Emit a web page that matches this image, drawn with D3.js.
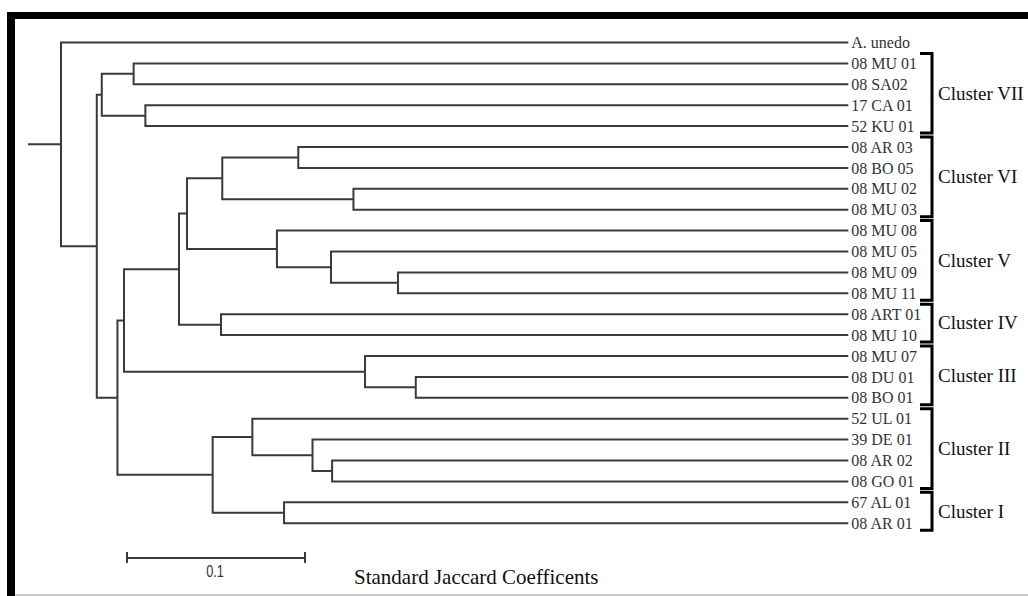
<!doctype html>
<html lang='en'>

<head>
    <title>Dendrogram - Standard Jaccard Coefficents</title>
    <meta charset='utf-8'>
    <style>
        body {
            margin: 0;
            background-color: white;
        }

        .branch {
            fill: none;
            stroke: #3a3a3a;
            stroke-width: 2px;
        }

        .leaf-label {
            font-family: 'Liberation Serif', 'Times New Roman', serif;
            font-size: 16px;
            fill: #333;
        }

        .cluster-label {
            font-family: 'Liberation Serif', 'Times New Roman', serif;
            font-size: 19px;
            fill: #111;
        }

        .bracket {
            fill: none;
            stroke: black;
            stroke-width: 3px;
        }
    </style>
    <script src='https://cdn.jsdelivr.net/npm/d3@7'></script>
</head>

<body>
    <div id='chart'></div>

    <script>
        // leaf order, top to bottom
        const leaves = [
            'A. unedo', '08 MU 01', '08 SA02', '17 CA 01', '52 KU 01',
            '08 AR 03', '08 BO 05', '08 MU 02', '08 MU 03',
            '08 MU 08', '08 MU 05', '08 MU 09', '08 MU 11',
            '08 ART 01', '08 MU 10',
            '08 MU 07', '08 DU 01', '08 BO 01',
            '52 UL 01', '39 DE 01', '08 AR 02', '08 GO 01',
            '67 AL 01', '08 AR 01'
        ];

        // merge steps: [child, child, height]; a number means an earlier merge row
        const merges = [
            ['08 DU 01', '08 BO 01', 0.243],   // 0
            ['08 MU 09', '08 MU 11', 0.253],   // 1
            ['08 MU 07', 0, 0.2715],           // 2
            ['08 MU 02', '08 MU 03', 0.278],   // 3
            ['08 AR 02', '08 GO 01', 0.290],   // 4
            ['08 MU 05', 1, 0.2906],           // 5
            ['39 DE 01', 4, 0.301],            // 6
            ['08 AR 03', '08 BO 05', 0.309],   // 7
            ['67 AL 01', '08 AR 01', 0.317],   // 8
            ['08 MU 08', 5, 0.321],            // 9
            ['52 UL 01', 6, 0.3348],           // 10
            [7, 3, 0.3517],                    // 11
            ['08 ART 01', '08 MU 10', 0.3524], // 12
            [10, 8, 0.3571],                   // 13
            [11, 9, 0.3715],                   // 14
            [14, 12, 0.376],                   // 15
            ['17 CA 01', '52 KU 01', 0.3949],  // 16
            ['08 MU 01', '08 SA02', 0.4015],   // 17
            [15, 2, 0.4069],                   // 18
            [18, 13, 0.4106],                  // 19
            [17, 16, 0.4194],                  // 20
            [20, 19, 0.4222],                  // 21
            ['A. unedo', 21, 0.4423]           // 22 root
        ];

        // [label, first leaf, last leaf]
        const clusters = [
            ['Cluster VII', '08 MU 01', '52 KU 01'],
            ['Cluster VI', '08 AR 03', '08 MU 03'],
            ['Cluster V', '08 MU 08', '08 MU 11'],
            ['Cluster IV', '08 ART 01', '08 MU 10'],
            ['Cluster III', '08 MU 07', '08 BO 01'],
            ['Cluster II', '52 UL 01', '08 GO 01'],
            ['Cluster I', '67 AL 01', '08 AR 01']
        ];

        const scaleBarValue = 0.1;
        const axisTitle = 'Standard Jaccard Coefficents';

        const width = 1028;
        const height = 596;

        function buildTree() {
            const nodeOf = c => (typeof c === 'number')
                ? toNode(c)
                : {name: c, height: 0};
            function toNode(i) {
                const m = merges[i];
                return {name: 'n' + i, height: m[2], children: [nodeOf(m[0]), nodeOf(m[1])]};
            }
            return d3.hierarchy(toNode(merges.length - 1));
        }

        function draw() {
            const svg = d3.select('#chart')
                .append('svg')
                .attr('width', width)
                .attr('height', height);

            svg.append('rect')
                .attr('width', width)
                .attr('height', height)
                .attr('fill', 'white');

            // frame: thick black top/left, thin grey bottom
            svg.append('rect').attr('x', 7).attr('y', 12).attr('width', width - 7).attr('height', 7).attr('fill', 'black');
            svg.append('rect').attr('x', 7).attr('y', 12).attr('width', 8).attr('height', height - 12).attr('fill', 'black');
            svg.append('line')
                .attr('x1', 15).attr('x2', width)
                .attr('y1', 595).attr('y2', 595)
                .attr('stroke', '#bbb').attr('stroke-width', 1.5);

            const x = d3.scaleLinear().domain([0, 0.45]).range([848.3, 848.3 - 0.45 * 1780]);
            const y = d3.scalePoint().domain(leaves).range([42.5, 523.2]);

            const root = buildTree();
            root.eachAfter(n => {
                n.py = n.children
                    ? (n.children[0].py + n.children[1].py) / 2
                    : y(n.data.name);
                n.px = x(n.data.height);
            });

            const path = d3.path();
            path.moveTo(28, root.py);
            path.lineTo(root.px, root.py);
            root.each(n => {
                if (!n.children) return;
                const [a, b] = n.children;
                path.moveTo(a.px, a.py);
                path.lineTo(n.px, a.py);
                path.lineTo(n.px, b.py);
                path.lineTo(b.px, b.py);
            });

            svg.append('path')
                .attr('class', 'branch')
                .attr('d', path.toString());

            svg.selectAll('.leaf-label')
                .data(root.leaves())
                .enter()
                .append('text')
                .attr('class', 'leaf-label')
                .attr('x', d => d.px + 3)
                .attr('y', d => d.py)
                .attr('dy', '0.35em')
                .text(d => d.data.name);

            // cluster brackets
            const bx = 932;
            const groups = svg.selectAll('.cluster')
                .data(clusters)
                .enter()
                .append('g')
                .attr('class', 'cluster');

            groups.append('path')
                .attr('class', 'bracket')
                .attr('d', d => {
                    const top = y(d[1]) - 10;
                    const bottom = y(d[2]) + 7;
                    return `M${bx - 12},${top}H${bx}V${bottom}H${bx - 12}`;
                });

            groups.append('text')
                .attr('class', 'cluster-label')
                .attr('x', bx + 6)
                .attr('y', d => (y(d[1]) - 10 + y(d[2]) + 7) / 2)
                .attr('dy', '0.33em')
                .text(d => d[0]);

            // scale bar
            const barX = 127;
            const barY = 558;
            const barLen = Math.abs(x(scaleBarValue) - x(0));
            const bar = svg.append('g')
                .attr('stroke', '#3a3a3a')
                .attr('stroke-width', 2);
            bar.append('line').attr('x1', barX).attr('x2', barX + barLen).attr('y1', barY).attr('y2', barY);
            bar.append('line').attr('x1', barX).attr('x2', barX).attr('y1', barY - 6).attr('y2', barY + 5);
            bar.append('line').attr('x1', barX + barLen).attr('x2', barX + barLen).attr('y1', barY - 6).attr('y2', barY + 5);

            // narrow sans figure under the bar
            svg.append('text')
                .attr('transform', `translate(${barX + barLen / 2 - 1},577) scale(0.75,1)`)
                .attr('text-anchor', 'middle')
                .style('font-family', "'Liberation Sans', Arial, sans-serif")
                .style('font-size', '17px')
                .style('fill', '#333')
                .text(scaleBarValue);

            svg.append('text')
                .attr('x', 354)
                .attr('y', 584)
                .style('font-family', "'Liberation Serif', 'Times New Roman', serif")
                .style('font-size', '21px')
                .style('fill', '#111')
                .text(axisTitle);
        }

        draw();
    </script>
</body>

</html>
